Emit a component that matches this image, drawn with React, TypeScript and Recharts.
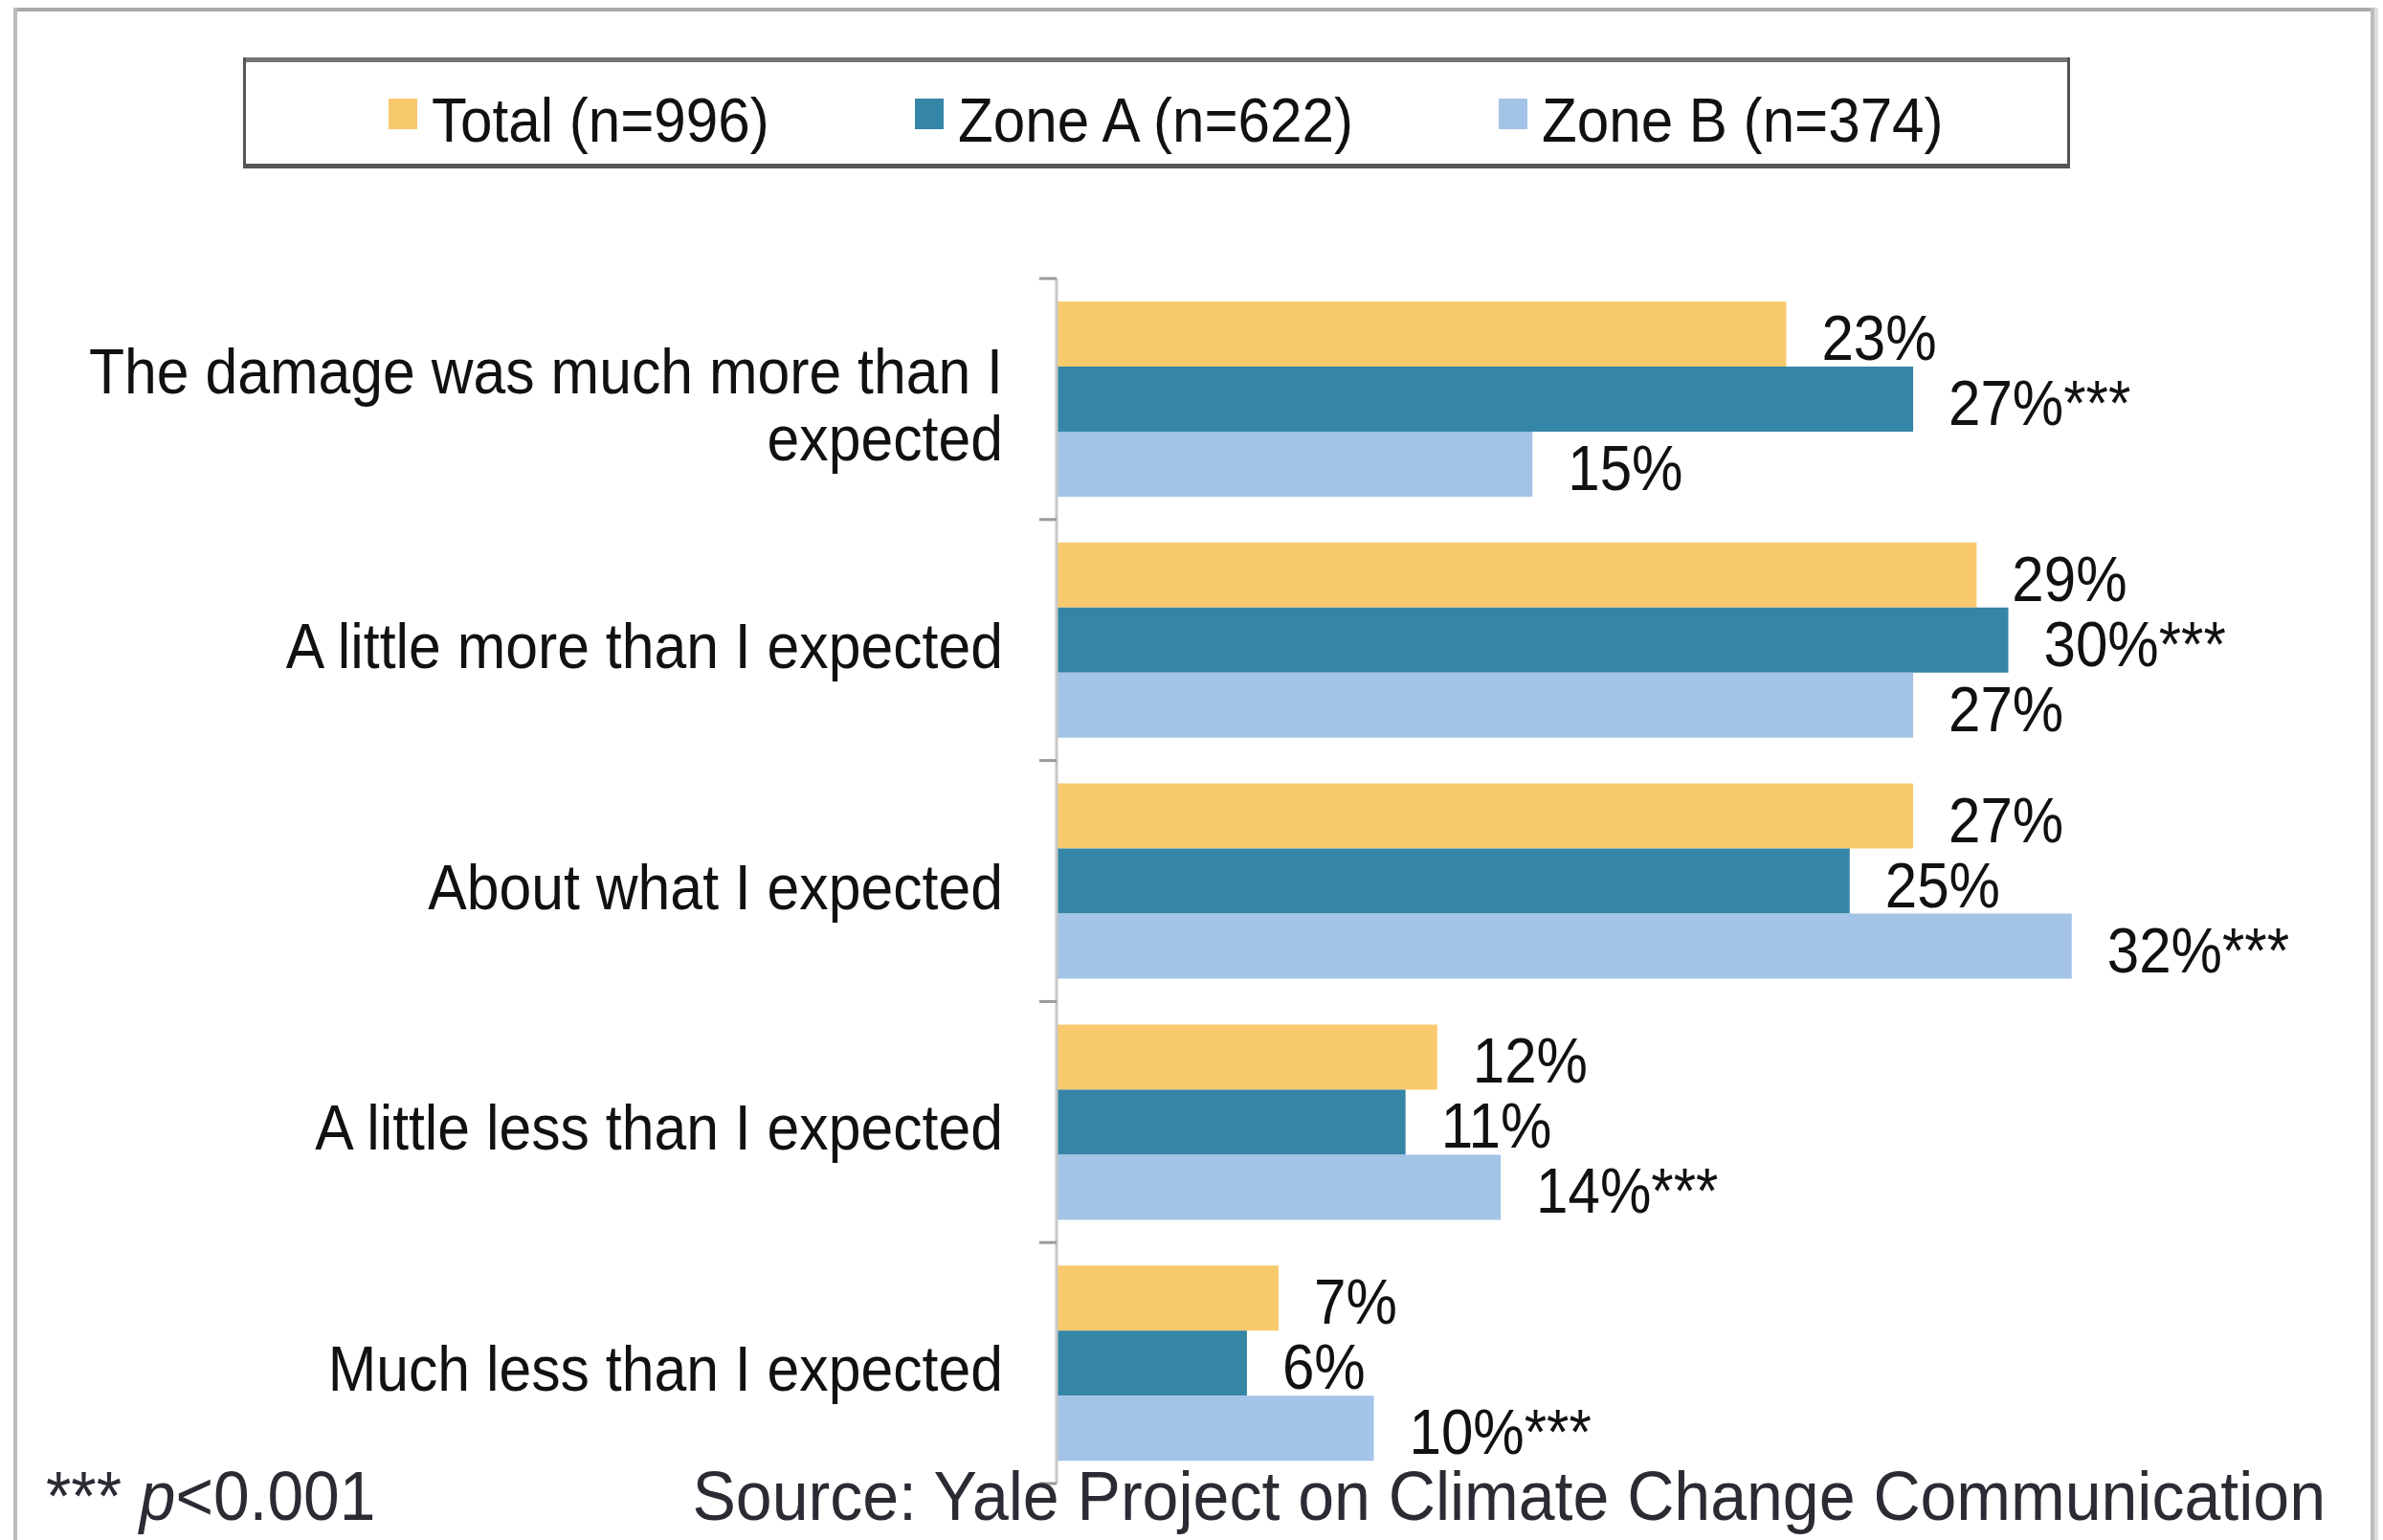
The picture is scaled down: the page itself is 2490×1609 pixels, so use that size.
import { BarChart, Bar, XAxis, YAxis, LabelList } from 'recharts'

const categories = [
  'The damage was much more than I expected',
  'A little more than I expected',
  'About what I expected',
  'A little less than I expected',
  'Much less than I expected',
]
const totalValues = [23, 29, 27, 12, 7]
const zoneAValues = [27, 30, 25, 11, 6]
const zoneBValues = [15, 27, 32, 14, 10]
// *** p<0.001
const zoneASig = [true, true, false, false, false]
const zoneBSig = [false, false, true, true, true]

const seriesNames = ['Total (n=996)', 'Zone A (n=622)', 'Zone B (n=374)']
const COLORS = ['#F9C96E', '#3585A6', '#A3C3E7']

const W = 2490
const H = 1609
const FONT = '"Liberation Sans", Arial, Helvetica, sans-serif'
const MARGIN = { top: 291, right: 60, bottom: 59, left: 0 }
const AXIS_W = 1104
const BAND = (H - MARGIN.top - MARGIN.bottom) / categories.length

const pct = (v: number, sig: boolean) => `${v}%${sig ? '***' : ''}`

const data = categories.map((name, i) => ({
  name,
  total: totalValues[i],
  zoneA: zoneAValues[i],
  zoneB: zoneBValues[i],
  totalLabel: pct(totalValues[i], false),
  zoneALabel: pct(zoneAValues[i], zoneASig[i]),
  zoneBLabel: pct(zoneBValues[i], zoneBSig[i]),
}))

function wrap(text: string, max: number) {
  const words = text.split(' ')
  const lines: string[] = []
  let cur = ''
  for (const w of words) {
    const next = cur ? cur + ' ' + w : w
    if (next.length > max && cur) {
      lines.push(cur)
      cur = w
    } else cur = next
  }
  if (cur) lines.push(cur)
  return lines
}

// the slide text is a bit condensed, so squeeze it horizontally
function NarrowText({ x, y, size, sx = 0.91, anchor = 'start', fill = '#111', children }: any) {
  return (
    <g transform={`translate(${x},${y}) scale(${sx},1)`}>
      <text x={0} y={0} fontSize={size} fontFamily={FONT} fill={fill} textAnchor={anchor}>
        {children}
      </text>
    </g>
  )
}

function CategoryTick(props: any) {
  const { x, y, payload, index } = props
  const tx = Number(x)
  const ty = Number(y)
  const lines = wrap(String(payload.value), 32)
  const first = ty + 29 - (lines.length - 1) * 35
  return (
    <g>
      <line x1={tx + 38} x2={tx + 56} y1={ty - BAND / 2} y2={ty - BAND / 2} stroke="#9a9a9a" strokeWidth={3} />
      {index === categories.length - 1 && (
        <line x1={tx + 38} x2={tx + 56} y1={ty + BAND / 2} y2={ty + BAND / 2} stroke="#9a9a9a" strokeWidth={3} />
      )}
      {lines.map((l, i) => (
        <NarrowText key={i} x={tx} y={first + i * 70} size={66} sx={0.92} anchor="end">
          {l}
        </NarrowText>
      ))}
    </g>
  )
}

function ValueLabel(props: any) {
  const { x, y, width, height, value } = props
  return (
    <NarrowText x={Number(x) + Number(width) + 37} y={Number(y) + Number(height) / 2 + 27} size={66}>
      {value}
    </NarrowText>
  )
}

const legendX = [406, 956, 1566]

export default function App() {
  return (
    <div style={{ position: 'absolute', left: 0, top: 0, width: W, height: H, background: '#fff' }}>
      <BarChart
        layout="vertical"
        width={W}
        height={H}
        data={data}
        margin={MARGIN}
        barCategoryGap={24}
        barGap={0}
      >
        <XAxis type="number" domain={[0, 40]} hide />
        <YAxis
          type="category"
          dataKey="name"
          width={AXIS_W}
          interval={0}
          axisLine={{ stroke: '#c8c8c8', strokeWidth: 3 }}
          tickLine={false}
          tickSize={18}
          tickMargin={38}
          tick={<CategoryTick />}
        />
        <Bar dataKey="total" fill={COLORS[0]} isAnimationActive={false}>
          <LabelList dataKey="totalLabel" content={<ValueLabel />} />
        </Bar>
        <Bar dataKey="zoneA" fill={COLORS[1]} isAnimationActive={false}>
          <LabelList dataKey="zoneALabel" content={<ValueLabel />} />
        </Bar>
        <Bar dataKey="zoneB" fill={COLORS[2]} isAnimationActive={false}>
          <LabelList dataKey="zoneBLabel" content={<ValueLabel />} />
        </Bar>
      </BarChart>

      <svg
        width={W}
        height={H}
        style={{ position: 'absolute', left: 0, top: 0, pointerEvents: 'none' }}
      >
        {/* outer frame */}
        <rect x={14} y={8} width={2467} height={4} fill="#aaa" />
        <rect x={14} y={8} width={4} height={H} fill="#bbb" />
        <rect x={2477} y={8} width={4} height={H} fill="#bbb" />
        <rect x={2481} y={8} width={4} height={H} fill="#ddd" />

        {/* legend box */}
        <rect x={255} y={62} width={1907} height={112} fill="#fff" />
        <rect x={254} y={60} width={1909} height={5} fill="#757575" />
        <rect x={254} y={171} width={1909} height={5} fill="#555" />
        <rect x={254} y={60} width={3} height={116} fill="#555" />
        <rect x={2160} y={60} width={3} height={116} fill="#555" />
        {seriesNames.map((name, i) => (
          <g key={name}>
            <rect x={legendX[i]} y={103} width={30} height={32} fill={COLORS[i]} />
            <NarrowText x={legendX[i] + 45} y={148} size={64} sx={0.94}>
              {name}
            </NarrowText>
          </g>
        ))}

        {/* footer */}
        <NarrowText x={48} y={1588} size={72} sx={0.94} fill="#2b2b33">
          {'*** '}
          <tspan fontStyle="italic">p</tspan>
          {'<0.001'}
        </NarrowText>
        <NarrowText x={2430} y={1588} size={72} sx={0.945} anchor="end" fill="#2b2b33">
          Source: Yale Project on Climate Change Communication
        </NarrowText>
      </svg>
    </div>
  )
}
